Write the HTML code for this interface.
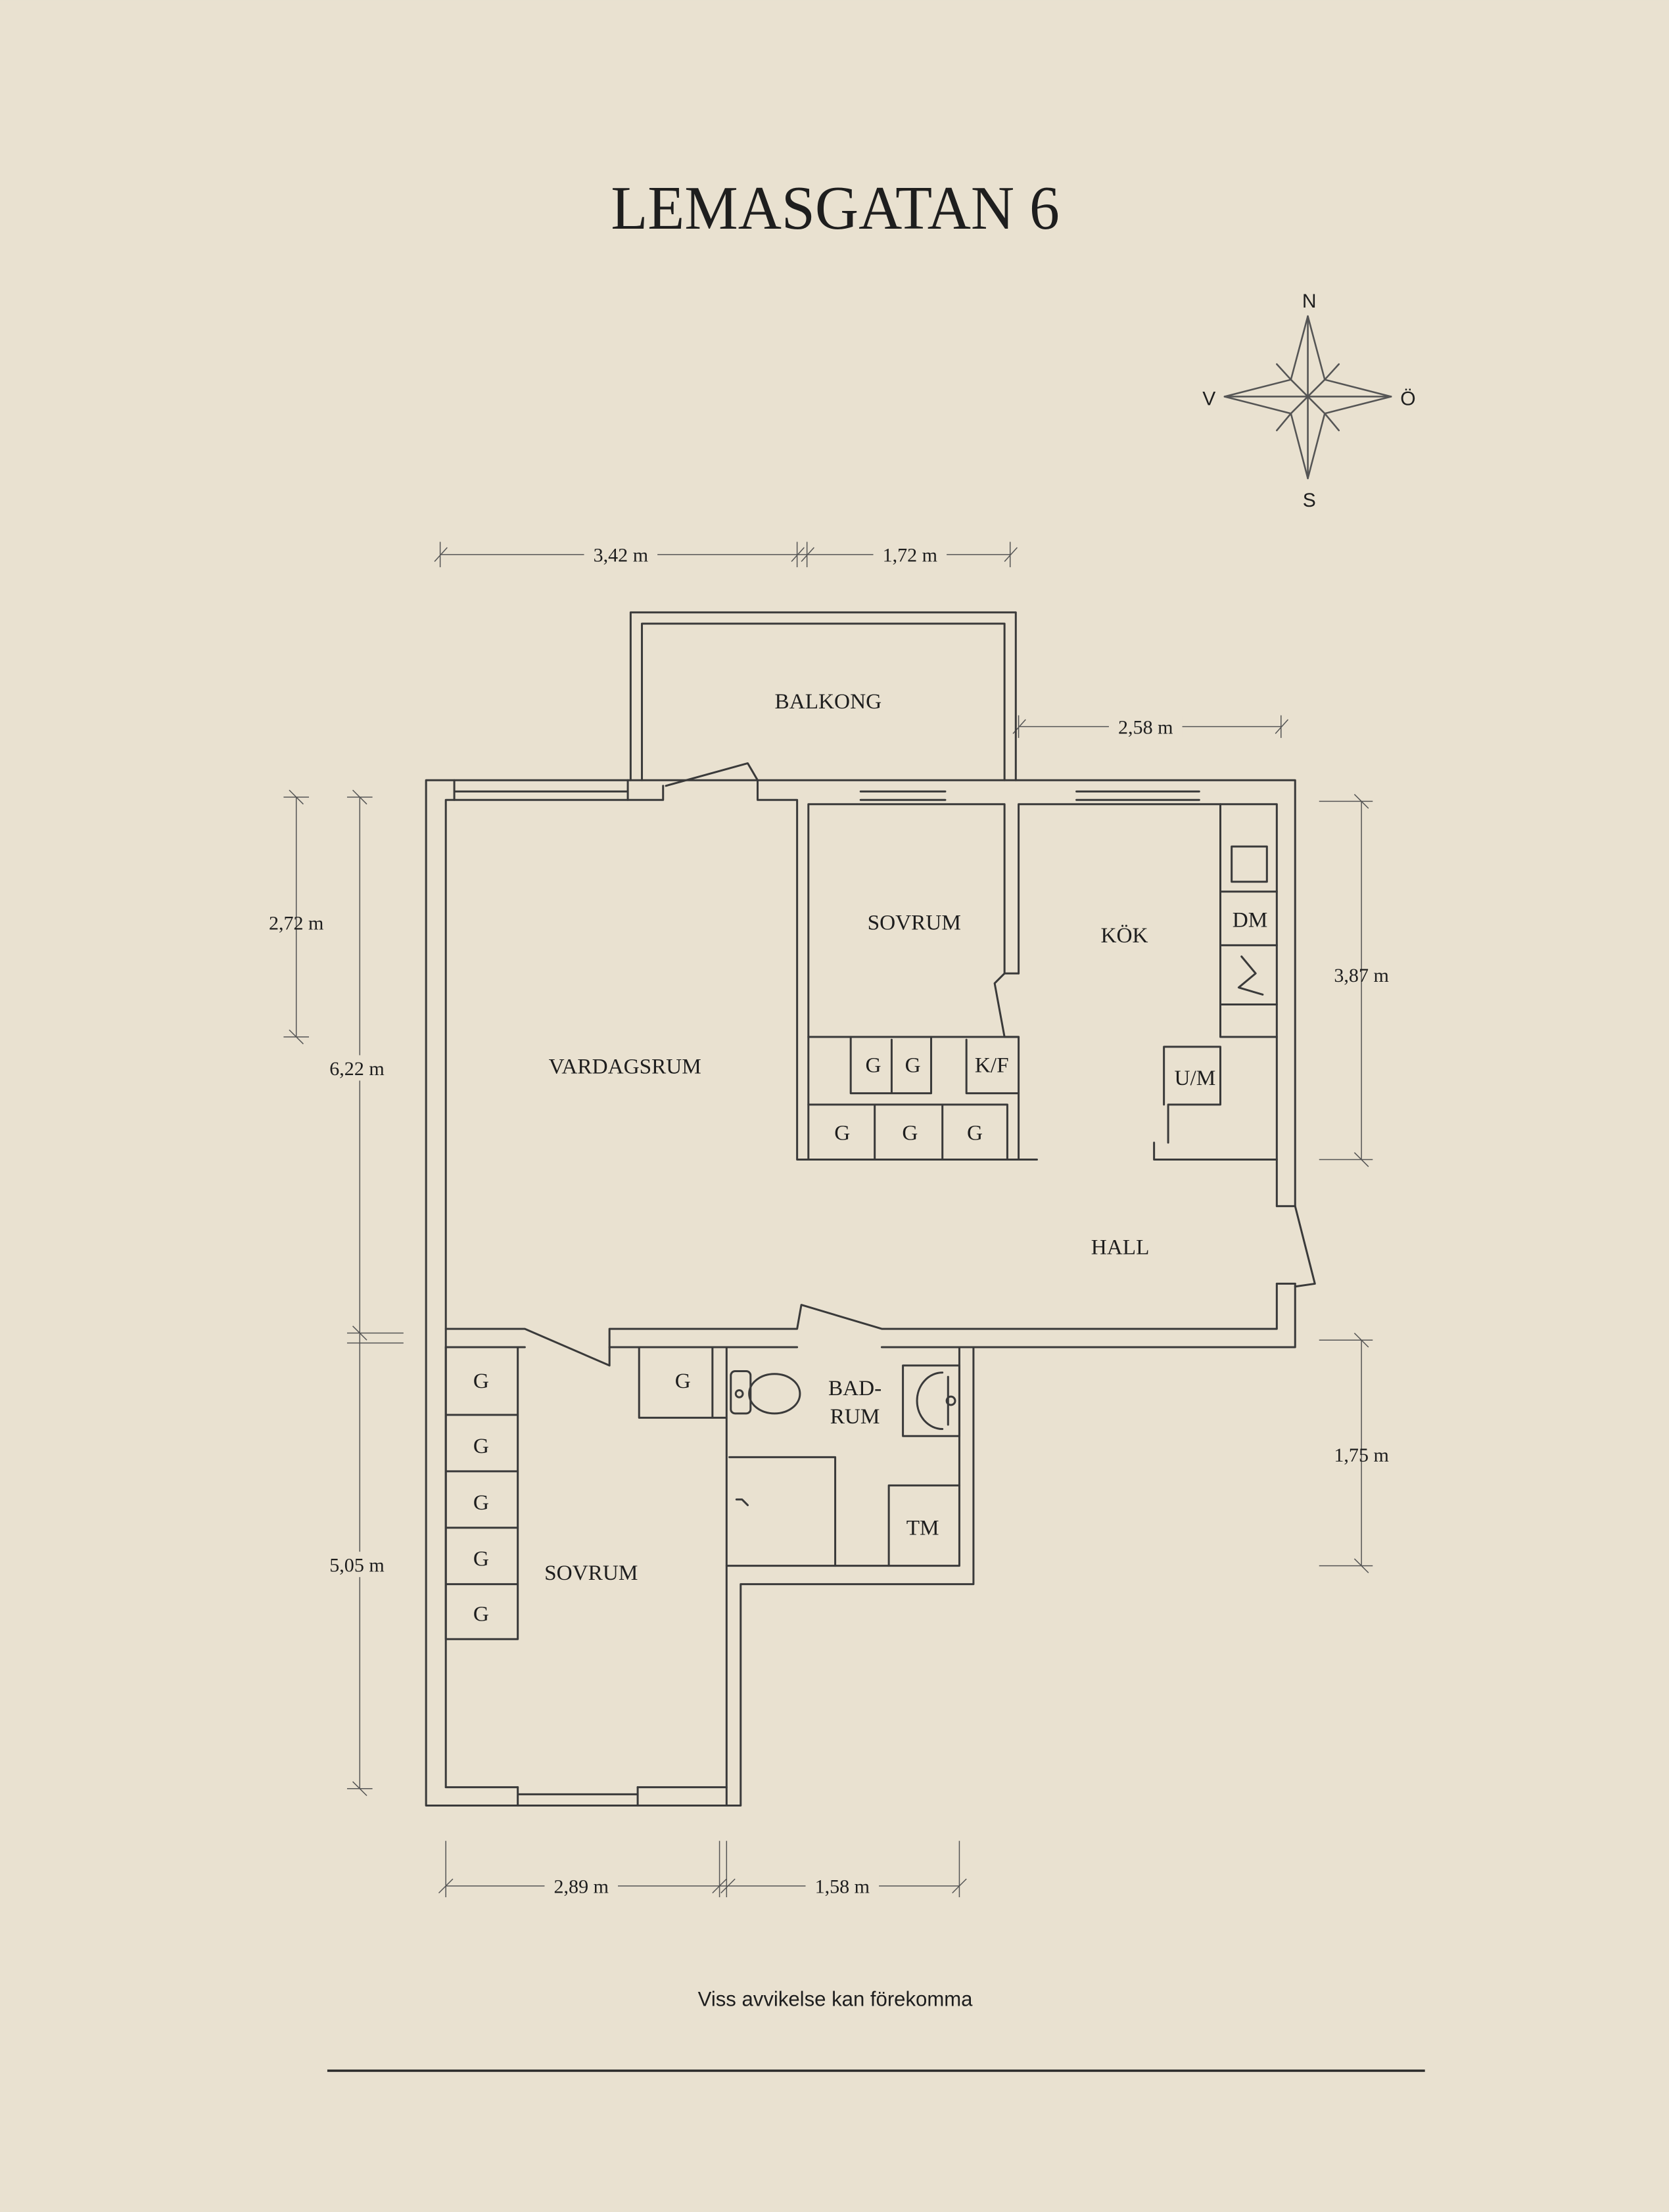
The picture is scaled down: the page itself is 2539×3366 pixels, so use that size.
<!DOCTYPE html>
<html><head><meta charset="utf-8"><style>
html,body{margin:0;padding:0;background:#e9e1d0;}
svg{display:block}
.w{fill:none;stroke:#3a3a3a;stroke-width:1.4;stroke-linecap:round;stroke-linejoin:round}
.d{fill:none;stroke:#555;stroke-width:0.7}
.t{font-family:"Liberation Serif",serif;fill:#1e1e1e;font-size:15.5px;text-anchor:middle}
.s{font-family:"Liberation Sans",sans-serif;fill:#1e1e1e;text-anchor:middle}
</style></head><body>
<svg width="2539" height="3366" viewBox="0 0 1183 1568" xmlns="http://www.w3.org/2000/svg">
<rect width="1183" height="1568" fill="#e9e1d0"/>
<text x="592" y="162" class="t" style="font-size:44px" textLength="318" lengthAdjust="spacingAndGlyphs">LEMASGATAN 6</text>

<!-- compass -->
<g class="w" style="stroke-width:1.2;stroke:#555">
<path d="M927 224 L939 269 L986 281 L939 293 L927 339 L915 293 L868 281 L915 269 Z"/>
<path d="M927 224 L927 339 M868 281 L986 281 M915 269 L939 293 M939 269 L915 293"/>
<path d="M915 269 L905 258 M939 269 L949 258 M915 293 L905 305 M939 293 L949 305"/>
</g>
<text x="928" y="218" class="s" font-size="14">N</text>
<text x="928" y="359" class="s" font-size="14">S</text>
<text x="857" y="287" class="s" font-size="14">V</text>
<text x="998" y="287" class="s" font-size="14">Ö</text>

<!-- dimensions -->
<g class="d">
<path d="M312 393 H716 M312 384 V402 M565 384 V402 M572 384 V402 M716 384 V402 M308 398 L317 388 M561 398 L570 388 M568 398 L577 388 M712 398 L721 388"/>
<path d="M722 515 H908 M722 507 V523 M908 507 V523 M718 520 L727 510 M904 520 L913 510"/>
<path d="M210 565 V735 M201 565 H219 M201 735 H219 M205 560 L215 570 M205 730 L215 740"/>
<path d="M255 565 V1268 M246 565 H264 M246 945 H286 M246 952 H286 M246 1268 H264 M250 560 L260 570 M250 940 L260 950 M250 1263 L260 1273"/>
<path d="M965 568 V822 M935 568 H973 M935 822 H973 M960 563 L970 573 M960 817 L970 827"/>
<path d="M965 950 V1110 M935 950 H973 M935 1110 H973 M960 945 L970 955 M960 1105 L970 1115"/>
<path d="M316 1337 H680 M316 1305 V1345 M510 1305 V1345 M515 1305 V1345 M680 1305 V1345 M311 1342 L321 1332 M505 1342 L515 1332 M511 1342 L521 1332 M675 1342 L685 1332"/>
</g>
<g class="t" style="font-size:14px">
<rect x="414" y="384" width="52" height="16" fill="#e9e1d0"/><text x="440" y="398">3,42 m</text>
<rect x="619" y="384" width="52" height="16" fill="#e9e1d0"/><text x="645" y="398">1,72 m</text>
<rect x="786" y="507" width="52" height="16" fill="#e9e1d0"/><text x="812" y="520">2,58 m</text>
<text x="210" y="659">2,72 m</text>
<rect x="228" y="748" width="52" height="18" fill="#e9e1d0"/><text x="253" y="762">6,22 m</text>
<rect x="228" y="1100" width="52" height="18" fill="#e9e1d0"/><text x="253" y="1114">5,05 m</text>
<text x="965" y="696">3,87 m</text>
<text x="965" y="1036">1,75 m</text>
<rect x="386" y="1329" width="52" height="16" fill="#e9e1d0"/><text x="412" y="1342">2,89 m</text>
<rect x="571" y="1329" width="52" height="16" fill="#e9e1d0"/><text x="597" y="1342">1,58 m</text>
</g>

<!-- walls -->
<g class="w">
<path d="M447 553 V434 H720 V553 M455 553 V442 H712 V553"/>
<path d="M302 1280 V553 H918 V855 M918 910 V955 H690 V1123 H525 V1280 H302"/>
<path d="M316 1267 V567 H470 V557 M537 553 V567 H565 V822 H735"/>
<path d="M316 1267 H367 M452 1267 H515"/>
<path d="M322 553 V567 M445 553 V567 M322 561 H445"/>
<path d="M472 557 L530 541 L537 553"/>
<path d="M573 822 V570 H712 V690 L705 697 L712 735 L722 735 M722 690 V570 H905 V855"/>
<path d="M712 690 L722 690"/>
<path d="M610 561 H670 M763 561 H850 M610 567 H670 M763 567 H850"/>
<path d="M573 735 H722 M722 735 V822 M573 783 H714 V822 M620 783 V822 M668 783 V822"/>
<path d="M603 735 V775 H660 V735 M632 737 V775 M685 737 V775 H722"/>
<path d="M865 570 V735 H905 M865 632 H905 M865 670 H905 M865 712 H905"/>
<rect x="873" y="600" width="25" height="25"/>
<path d="M880 678 L890 690 L878 700 L895 705"/>
<path d="M825 783 V742 H865 V783 H828 V810 M818 810 V822 H905"/>
<path d="M905 855 H918 M905 910 H918 M918 855 L932 910 L918 912"/>
<path d="M316 942 H372 L432 968 V942 H565 L568 925 L625 942 H905 V910"/>
<path d="M316 955 H372 M432 955 H565 M625 955 H690"/>
<path d="M316 955 V1162 H367 V955 M316 1003 H367 M316 1043 H367 M316 1083 H367 M316 1123 H367"/>
<path d="M453 955 V1005 H515 M515 955 V1280 M505 955 V1005"/>
<path d="M367 1267 V1280 M452 1267 V1280 M367 1272 H452"/>
<path d="M515 1110 H680 V955"/>
<path d="M517 1033 H592 V1110 M630 1110 V1053 H680"/>
<rect x="518" y="972" width="14" height="30" rx="3"/>
<ellipse cx="549" cy="988" rx="18" ry="14"/>
<circle cx="524" cy="988" r="2.5"/>
<rect x="640" y="968" width="40" height="50"/>
<path d="M668 973 A18 20 0 0 0 668 1013 M672 976 V1010"/>
<circle cx="674" cy="993" r="3"/>
<path d="M522 1063 L526 1063 L530 1067"/>
</g>

<g class="t">
<text x="587" y="502">BALKONG</text>
<text x="648" y="659">SOVRUM</text>
<text x="797" y="668">KÖK</text>
<text x="886" y="657">DM</text>
<text x="847" y="769">U/M</text>
<text x="443" y="761">VARDAGSRUM</text>
<text x="619" y="760">G</text>
<text x="647" y="760">G</text>
<text x="703" y="760">K/F</text>
<text x="597" y="808">G</text>
<text x="645" y="808">G</text>
<text x="691" y="808">G</text>
<text x="794" y="889">HALL</text>
<text x="341" y="984">G</text>
<text x="341" y="1030">G</text>
<text x="341" y="1070">G</text>
<text x="341" y="1110">G</text>
<text x="341" y="1149">G</text>
<text x="484" y="984">G</text>
<text x="419" y="1120">SOVRUM</text>
<text x="606" y="989">BAD-</text>
<text x="606" y="1009">RUM</text>
<text x="654" y="1088">TM</text>
</g>

<text x="592" y="1422" class="s" font-size="14.5">Viss avvikelse kan förekomma</text>
<path d="M232 1468 H1010" stroke="#2a2a2a" stroke-width="1.6"/>
</svg>
</body></html>
